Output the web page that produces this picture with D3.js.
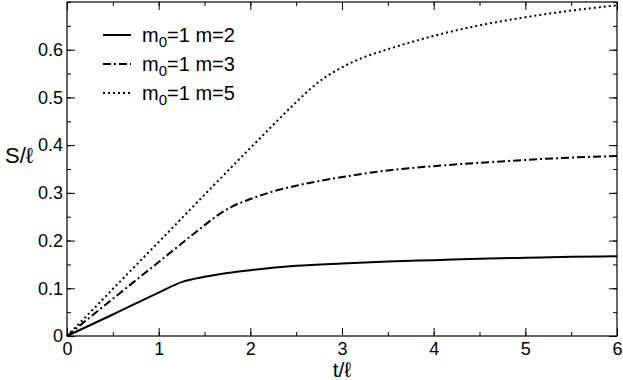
<!DOCTYPE html>
<html>
<head>
<meta charset="utf-8">
<script src="https://cdn.jsdelivr.net/npm/d3@7"></script>
<style>
  body { margin: 0; background: #fff; }
  svg { display: block; }
  text { font-family: "Liberation Sans", Arial, sans-serif; fill: #000; }
</style>
</head>
<body>
<div id="chart"></div>
<script>
// t/l values and S/l values for each curve
var tM2 = [0, 0.5, 1, 1.25, 1.5, 1.75, 2, 2.5, 3, 3.5, 4, 4.5, 5, 5.5, 6];
var sM2 = [0, 0.045, 0.091, 0.113, 0.124, 0.132, 0.138, 0.147, 0.152, 0.156, 0.159, 0.162, 0.164, 0.166, 0.167];

var tM3 = [0, 0.5, 1, 1.5, 1.65, 1.8, 2, 2.25, 2.5, 3, 3.5, 4, 4.5, 5, 5.5, 6];
var sM3 = [0, 0.078, 0.155, 0.232, 0.254, 0.271, 0.287, 0.303, 0.315, 0.333, 0.347, 0.356, 0.363, 0.369, 0.374, 0.377];

var tM5 = [0, 1, 2, 2.5, 2.65, 2.8, 3, 3.25, 3.5, 4, 4.5, 5, 5.5, 6];
var sM5 = [0, 0.197, 0.394, 0.49, 0.517, 0.54, 0.563, 0.585, 0.601, 0.629, 0.651, 0.668, 0.682, 0.693];

var labels = ["m=2", "m=3", "m=5"];
var xTicks = [0, 1, 2, 3, 4, 5, 6];
var yTicks = [0, 0.1, 0.2, 0.3, 0.4, 0.5, 0.6];

var margin = { top: 2, right: 6, bottom: 44, left: 67 },
    width = 623 - margin.left - margin.right,
    height = 380 - margin.top - margin.bottom;

var svg = d3.select("#chart")
    .append("svg")
    .attr("width", 623)
    .attr("height", 380)
    .append("g")
    .attr("transform", "translate(" + margin.left + "," + margin.top + ")");

var x = d3.scaleLinear().domain([0, 6]).range([0, width]);
var y = d3.scaleLinear().domain([0, 0.7]).range([height, 0]);

var minorX = d3.range(0, 6.01, 0.5);
var minorY = d3.range(0, 0.701, 0.05);

function styleAxis(g) {
    g.select(".domain").remove();
    g.selectAll("line").attr("stroke", "#000").attr("stroke-width", 1);
    g.selectAll("text").style("font-size", "18px").style("font-family", "Liberation Sans, Arial, sans-serif");
}

// minor ticks on all sides
svg.append("g").attr("transform", "translate(0," + height + ")")
    .call(d3.axisBottom(x).tickValues(minorX).tickSize(-4).tickFormat("")).call(styleAxis);
svg.append("g")
    .call(d3.axisTop(x).tickValues(minorX).tickSize(-4).tickFormat("")).call(styleAxis);
svg.append("g")
    .call(d3.axisLeft(y).tickValues(minorY).tickSize(-4).tickFormat("")).call(styleAxis);
svg.append("g").attr("transform", "translate(" + width + ",0)")
    .call(d3.axisRight(y).tickValues(minorY).tickSize(-4).tickFormat("")).call(styleAxis);

// major ticks
svg.append("g").attr("transform", "translate(0," + height + ")")
    .call(d3.axisBottom(x).tickValues(xTicks).tickSize(-8).tickPadding(6).tickFormat(d3.format("d")))
    .call(styleAxis);
svg.append("g")
    .call(d3.axisTop(x).tickValues(xTicks).tickSize(-8).tickFormat("")).call(styleAxis);
svg.append("g")
    .call(d3.axisLeft(y).tickValues(yTicks).tickSize(-8).tickPadding(4).tickFormat(d => d === 0 ? "0" : d3.format(".1f")(d)))
    .call(styleAxis);
svg.append("g").attr("transform", "translate(" + width + ",0)")
    .call(d3.axisRight(y).tickValues(yTicks).tickSize(-8).tickFormat("")).call(styleAxis);

// frame
svg.append("rect")
    .attr("x", 0).attr("y", 0)
    .attr("width", width).attr("height", height)
    .attr("fill", "none")
    .attr("stroke", "#000")
    .attr("stroke-width", 1.2);

// curves
var series = [
    { t: tM2, s: sM2, dash: null },
    { t: tM3, s: sM3, dash: "8,3,2,3" },
    { t: tM5, s: sM5, dash: "2,3" }
];

var line = d3.line()
    .x(d => x(d[0]))
    .y(d => y(d[1]))
    .curve(d3.curveMonotoneX);

series.forEach(function (ser) {
    svg.append("path")
        .datum(d3.zip(ser.t, ser.s))
        .attr("fill", "none")
        .attr("stroke", "#000")
        .attr("stroke-width", 2)
        .attr("stroke-dasharray", ser.dash)
        .attr("d", line);
});

// legend
var legend = svg.append("g").attr("transform", "translate(36,33)");
series.forEach(function (ser, i) {
    var row = legend.append("g").attr("transform", "translate(0," + (i * 29) + ")");
    row.append("line")
        .attr("x1", 0).attr("x2", 28)
        .attr("y1", 0).attr("y2", 0)
        .attr("stroke", "#000")
        .attr("stroke-width", 2)
        .attr("stroke-dasharray", ser.dash);
    var txt = row.append("text")
        .attr("x", 39).attr("y", 7)
        .style("font-size", "20px");
    txt.append("tspan").text("m");
    txt.append("tspan").attr("dy", 5).style("font-size", "15px").text("0");
    txt.append("tspan").attr("dy", -5).text("=1 " + labels[i]);
});

// axis titles
svg.append("text")
    .attr("x", width / 2)
    .attr("y", height + 41)
    .attr("text-anchor", "middle")
    .style("font-size", "21px")
    .text("t/ℓ");

svg.append("text")
    .attr("x", -62)
    .attr("y", y(0.38) + 8)
    .style("font-size", "22px")
    .text("S/ℓ");
</script>
</body>
</html>
